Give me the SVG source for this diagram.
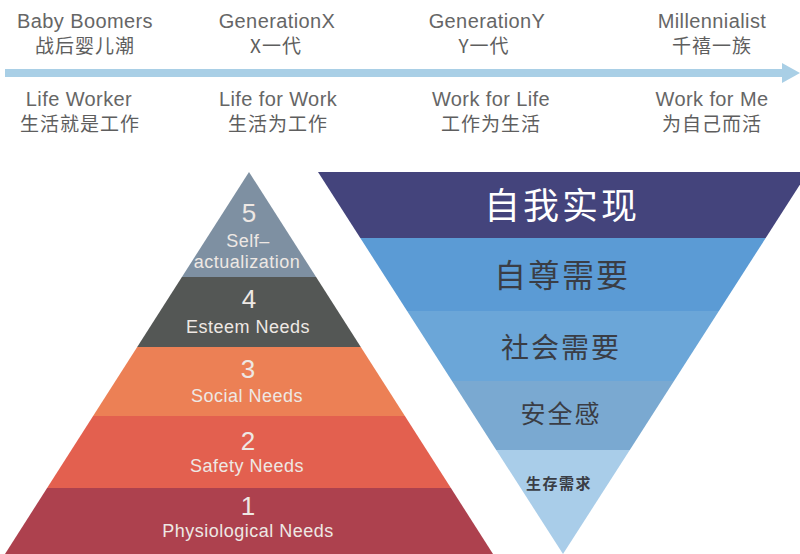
<svg xmlns="http://www.w3.org/2000/svg" width="800" height="554" viewBox="0 0 800 554">
  <style>
    .gen { font-family: "Liberation Sans", "Noto Sans CJK SC", sans-serif; font-size: 20px; fill: #666666; text-anchor: middle; letter-spacing: 0.4px; }
    .cn { font-family: "Noto Sans CJK SC", sans-serif; font-size: 19px; fill: #5e5e5e; text-anchor: middle; letter-spacing: 1px; }
    .num { font-family: "Liberation Sans", sans-serif; font-size: 26px; fill: #eee8e4; text-anchor: middle; }
    .lbl { font-family: "Liberation Sans", sans-serif; font-size: 18px; fill: #eee8e4; text-anchor: middle; letter-spacing: 0.5px; }
    .inv { font-family: "Noto Sans CJK SC", sans-serif; text-anchor: middle; fill: #3a3d45; }
  </style>

  <rect width="800" height="554" fill="#ffffff"/>

  <!-- generation timeline -->
  <g id="timeline">
    <rect x="5" y="69" width="780" height="8" fill="#a9cfe6"/>
    <polygon points="782,63 800,73 782,83" fill="#a9cfe6"/>
  </g>

  <g id="baby-boomers">
    <text class="gen" x="85" y="28">Baby Boomers</text>
    <text class="cn" x="85" y="53">战后婴儿潮</text>
    <text class="gen" x="79" y="106">Life Worker</text>
    <text class="cn" x="80" y="131">生活就是工作</text>
  </g>
  <g id="generation-x">
    <text class="gen" x="277" y="28">GenerationX</text>
    <text class="cn" x="276" y="53">X一代</text>
    <text class="gen" x="278" y="106">Life for Work</text>
    <text class="cn" x="278" y="131">生活为工作</text>
  </g>
  <g id="generation-y">
    <text class="gen" x="487" y="28">GenerationY</text>
    <text class="cn" x="484" y="53">Y一代</text>
    <text class="gen" x="491" y="106">Work for Life</text>
    <text class="cn" x="491" y="131">工作为生活</text>
  </g>
  <g id="millennialist">
    <text class="gen" x="712" y="28">Millennialist</text>
    <text class="cn" x="712" y="53">千禧一族</text>
    <text class="gen" x="712" y="106">Work for Me</text>
    <text class="cn" x="712" y="131">为自己而活</text>
  </g>

  <!-- Maslow pyramid -->
  <g id="level-5">
    <polygon points="249,172 316.1,277 181.9,277" fill="#7e90a2"/>
    <text class="num" x="249" y="222">5</text>
    <text class="lbl" x="248" y="247">Self–</text>
    <text class="lbl" x="247" y="268">actualization</text>
  </g>
  <g id="level-4">
    <polygon points="181.9,277 316.1,277 360.8,347 137.2,347" fill="#545755"/>
    <text class="num" x="249" y="308">4</text>
    <text class="lbl" x="248" y="333">Esteem Needs</text>
  </g>
  <g id="level-3">
    <polygon points="137.2,347 360.8,347 404.9,416 93.1,416" fill="#ec8055"/>
    <text class="num" x="248" y="378">3</text>
    <text class="lbl" x="247" y="402">Social Needs</text>
  </g>
  <g id="level-2">
    <polygon points="93.1,416 404.9,416 450.9,488 47.1,488" fill="#e3604f"/>
    <text class="num" x="248" y="450">2</text>
    <text class="lbl" x="247" y="472">Safety Needs</text>
  </g>
  <g id="level-1">
    <polygon points="47.1,488 450.9,488 493,554 5,554" fill="#ad414e"/>
    <text class="num" x="248" y="515">1</text>
    <text class="lbl" x="248" y="537">Physiological Needs</text>
  </g>

  <!-- inverted pyramid -->
  <g id="tier-self">
    <polygon points="318,172 808,172 765.7,238 360.3,238" fill="#44447c"/>
    <text class="inv" x="562" y="219" font-size="36" letter-spacing="3" style="fill:#ffffff">自我实现</text>
  </g>
  <g id="tier-esteem">
    <polygon points="360.3,238 765.7,238 718.9,311 407.1,311" fill="#5b9bd5"/>
    <text class="inv" x="562" y="287" font-size="32" letter-spacing="2">自尊需要</text>
  </g>
  <g id="tier-social">
    <polygon points="407.1,311 718.9,311 674,381 452,381" fill="#6ba6d8"/>
    <text class="inv" x="561" y="358" font-size="28" letter-spacing="2">社会需要</text>
  </g>
  <g id="tier-safety">
    <polygon points="452,381 674,381 629.8,450 496.2,450" fill="#7aa9d1"/>
    <text class="inv" x="561" y="423" font-size="25" letter-spacing="2">安全感</text>
  </g>
  <g id="tier-survival">
    <polygon points="496.2,450 629.8,450 563,554" fill="#a9cde9"/>
    <text class="inv" x="559" y="489" font-size="15" font-weight="bold" letter-spacing="1.5">生存需求</text>
  </g>
</svg>
